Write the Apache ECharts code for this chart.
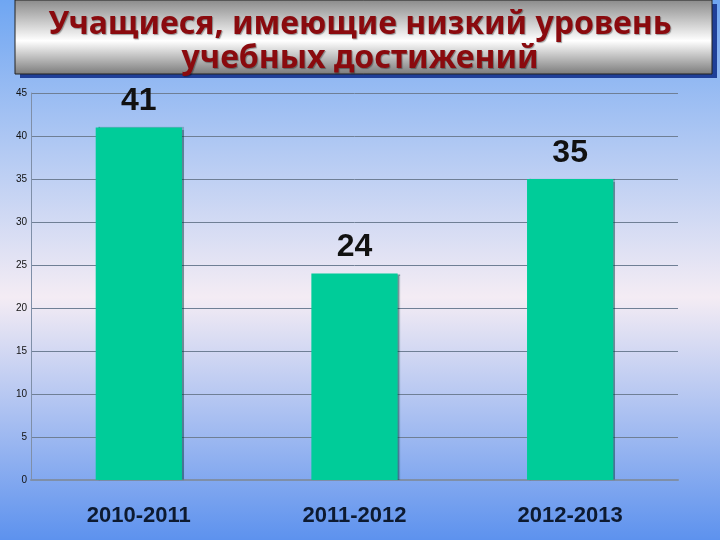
<!DOCTYPE html>
<html><head><meta charset="utf-8">
<script src="https://cdn.jsdelivr.net/npm/echarts@6/dist/echarts.min.js"></script>
<style>html,body{margin:0;padding:0;}#c{width:720px;height:540px;}</style>
</head><body><div id="c"></div>
<script>
const categories = ['2010-2011', '2011-2012', '2012-2013'];
const values = [41, 24, 35];
const yTicks = [0, 5, 10, 15, 20, 25, 30, 35, 40, 45];
const titleText = 'Учащиеся, имеющие низкий уровень\nучебных достижений';

const chart = echarts.init(document.getElementById('c'));
chart.setOption({
  animation: false,
  backgroundColor: new echarts.graphic.LinearGradient(0, 0, 0, 1, [
    {offset: 0, color: '#6fa6f2'},
    {offset: 0.55, color: '#f4ecf4'},
    {offset: 1, color: '#5d92ee'}
  ]),
  graphic: [
    {type: 'rect', shape: {x: 20, y: 4, width: 697, height: 74}, style: {fill: '#1f3f98'}, z: 0},
    {type: 'rect', shape: {x: 15, y: 0, width: 697, height: 74},
     style: {fill: new echarts.graphic.LinearGradient(0, 0, 0, 1, [
       {offset: 0, color: '#8a8a8a'}, {offset: 0.55, color: '#ffffff'}, {offset: 1, color: '#7a7a7a'}]),
       stroke: '#222', lineWidth: 1}, z: 1}
  ],
  title: {
    text: titleText,
    left: 'center', top: 3,
    textStyle: {
      fontFamily: 'Noto Sans', fontWeight: 'bold', fontSize: 32, lineHeight: 34,
      color: '#8a0a0e', textShadowColor: 'rgba(0,0,0,0.35)', textShadowOffsetX: 1, textShadowOffsetY: 1, textShadowBlur: 1
    },
    z: 5
  },
  grid: {left: 31, right: 42, top: 93, bottom: 60},
  xAxis: {
    type: 'category', data: categories,
    axisLine: {lineStyle: {color: '#7f8fa8', width: 2}},
    axisTick: {show: false},
    axisLabel: {margin: 25, fontFamily: 'Liberation Sans', fontWeight: 'bold', fontSize: 22, color: '#0d1a30',
      textShadowColor: 'rgba(0,0,0,0.3)', textShadowOffsetX: 1, textShadowOffsetY: 1}
  },
  yAxis: {
    type: 'value', min: 0, max: 45, interval: 5,
    axisLine: {show: true, lineStyle: {color: '#7f8fa8'}},
    axisTick: {show: false},
    axisLabel: {margin: 4, fontFamily: 'Liberation Sans', fontSize: 10, color: '#111',
      formatter: v => yTicks.includes(v) ? String(v) : ''},
    splitLine: {lineStyle: {color: '#6f7f95', width: 1}}
  },
  series: [{
    type: 'bar', data: values, barWidth: '40%',
    itemStyle: {color: '#00cc99', shadowColor: 'rgba(0,60,60,0.5)', shadowOffsetX: 2, shadowBlur: 1},
    label: {show: true, position: 'top', distance: 10, fontFamily: 'Liberation Sans', fontWeight: 'bold',
      fontSize: 32, color: '#111', textShadowColor: 'rgba(255,255,255,0.6)', textShadowOffsetX: 1, textShadowOffsetY: 1}
  }]
});
</script></body></html>
